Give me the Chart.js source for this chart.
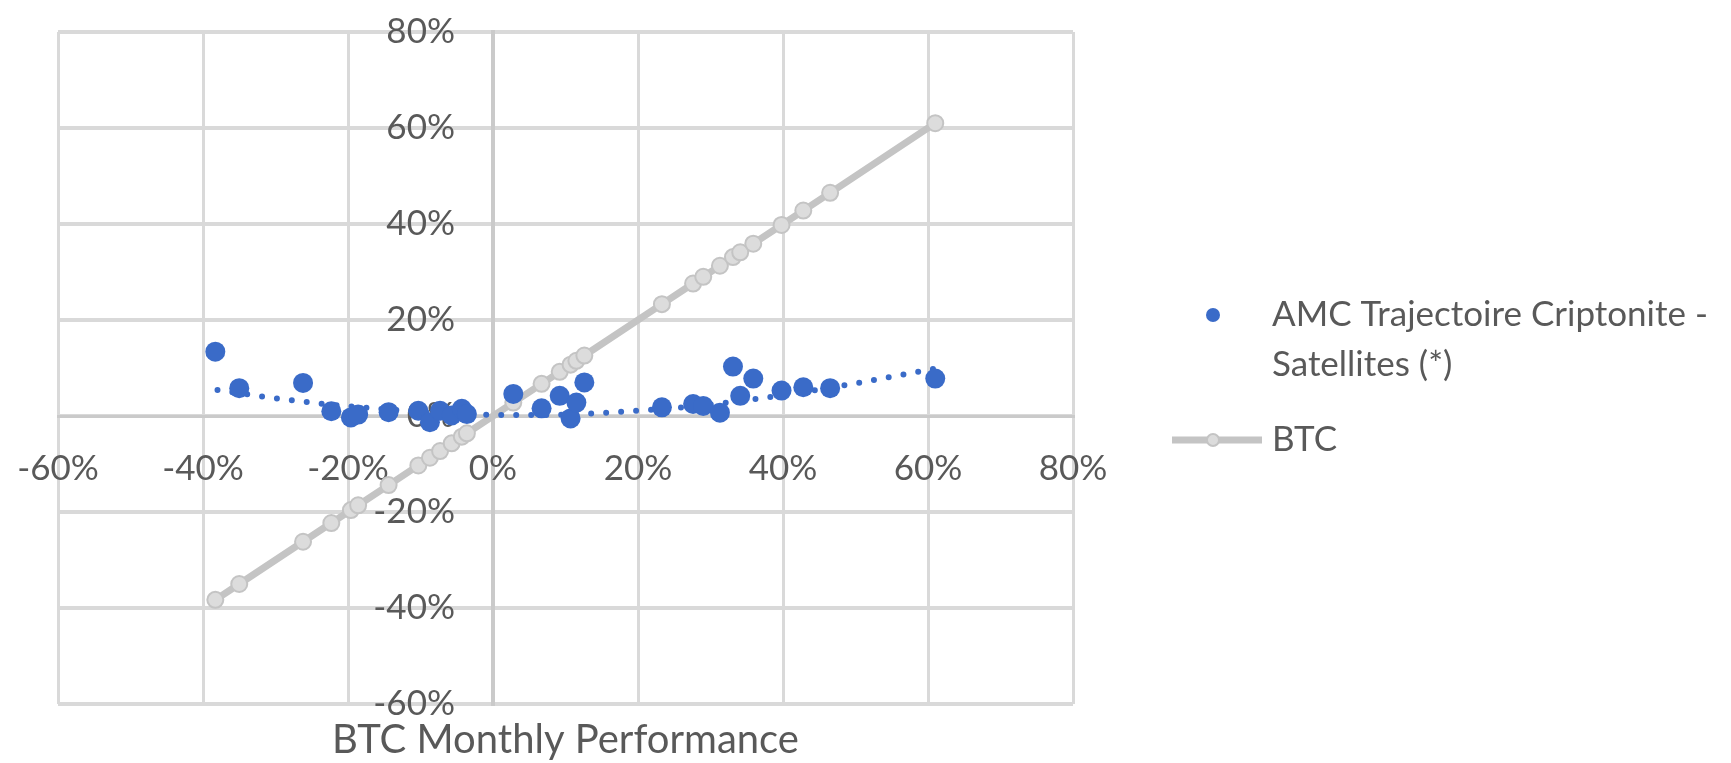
<!DOCTYPE html>
<html>
<head>
<meta charset="utf-8">
<title>AMC Trajectoire Criptonite - Satellites vs BTC</title>
<script src="https://cdn.jsdelivr.net/npm/chart.js@4.4.1/dist/chart.umd.min.js"></script>
<style>
  body { margin: 0; background: #fff; }
  #wrap { width: 1731px; height: 763px; }
</style>
</head>
<body>
<div id="wrap"><canvas id="scatterChart" width="1731" height="763"></canvas></div>
<script>
// BTC monthly performance (%) - x axis for both series
const btcMonthly = [-38.3, -35.0, -26.2, -22.3, -19.6, -18.6, -14.4, -10.3, -8.7, -7.3, -5.7, -4.3, -3.6,
                    2.8, 6.7, 9.2, 10.7, 11.5, 12.6, 23.3, 27.6, 29.0, 31.3, 33.1, 34.1, 35.9, 39.8, 42.8, 46.5, 61.0];
// AMC monthly performance (%) for the same months
const amcMonthly = [13.4, 5.8, 6.9, 1.0, -0.3, 0.3, 0.8, 1.1, -1.3, 1.1, 0.1, 1.5, 0.4,
                    4.6, 1.6, 4.2, -0.5, 2.8, 7.0, 1.8, 2.5, 2.1, 0.7, 10.3, 4.2, 7.8, 5.3, 6.0, 5.8, 7.8];
// dotted trend curve
const trendX = [-38, -30, -22, -14, -6, 2, 10, 18, 26, 34, 42, 50, 61];
const trendY = [5.4, 3.7, 2.3, 1.3, 0.5, 0.2, 0.3, 0.9, 1.8, 3.1, 4.8, 6.8, 9.9];
// axis ticks (%)
const axisMin = -60;
const axisMax = 80;
const axisStep = 20;

const amcLabel = ['AMC Trajectoire Criptonite -', 'Satellites (*)'];
const btcLabel = 'BTC';
const axisTitle = 'BTC Monthly Performance';

const blue = '#3A6BC8';
const grey = '#C4C4C4';
const greyFill = '#DCDCDC';
const gridGrey = '#D9D9D9';
const axisGrey = '#CACACA';
const textGrey = '#595959';
const fontFamily = 'Lato, "Open Sans", sans-serif';
const tickFont = '35px ' + fontFamily;

// tick labels sit next to the 0 lines (axes cross at 0), under the points
const axisLabels = {
    id: 'axisLabels',
    beforeDatasetsDraw(chart) {
        const ctx = chart.ctx;
        const xScale = chart.scales.x;
        const yScale = chart.scales.y;
        const x0 = xScale.getPixelForValue(0);
        const y0 = yScale.getPixelForValue(0);
        ctx.save();
        ctx.fillStyle = textGrey;
        ctx.font = tickFont;
        ctx.textBaseline = 'middle';
        ctx.textAlign = 'right';
        yScale.ticks.forEach(t => {
            ctx.fillText(t.value + '%', x0 - 38, yScale.getPixelForValue(t.value));
        });
        ctx.textAlign = 'center';
        xScale.ticks.forEach(t => {
            ctx.fillText(t.value + '%', xScale.getPixelForValue(t.value), y0 + 53);
        });
        ctx.restore();
    }
};

// Legend + axis title drawn by hand (legend text wraps on two lines)
const extras = {
    id: 'extras',
    afterDraw(chart) {
        const ctx = chart.ctx;
        const area = chart.chartArea;
        ctx.save();
        ctx.fillStyle = textGrey;
        ctx.textBaseline = 'middle';

        // axis title
        ctx.font = '40px ' + fontFamily;
        ctx.textAlign = 'center';
        ctx.fillText(axisTitle, (area.left + area.right) / 2, 740);

        // legend: AMC
        ctx.font = '35px ' + fontFamily;
        ctx.textAlign = 'left';
        ctx.beginPath();
        ctx.arc(1213, 315, 7, 0, Math.PI * 2);
        ctx.fillStyle = blue;
        ctx.fill();
        ctx.fillStyle = textGrey;
        ctx.fillText(amcLabel[0], 1272, 315);
        ctx.fillText(amcLabel[1], 1272, 365);

        // legend: BTC
        ctx.strokeStyle = grey;
        ctx.lineWidth = 7;
        ctx.beginPath();
        ctx.moveTo(1172, 440);
        ctx.lineTo(1262, 440);
        ctx.stroke();
        ctx.beginPath();
        ctx.arc(1213, 440, 6, 0, Math.PI * 2);
        ctx.fillStyle = greyFill;
        ctx.fill();
        ctx.lineWidth = 2;
        ctx.stroke();
        ctx.fillStyle = textGrey;
        ctx.fillText(btcLabel, 1272, 440);
        ctx.restore();
    }
};

const amcPoints = btcMonthly.map((x, i) => ({ x: x, y: amcMonthly[i] }));
const btcPoints = btcMonthly.map(x => ({ x: x, y: x }));
const trendPoints = trendX.map((x, i) => ({ x: x, y: trendY[i] }));

const ctx = document.getElementById('scatterChart').getContext('2d');
const chart = new Chart(ctx, {
    type: 'scatter',
    data: {
        datasets: [{
            label: amcLabel.join(' '),
            data: amcPoints,
            backgroundColor: blue,
            borderColor: blue,
            pointRadius: 10,
            pointBorderWidth: 0,
            order: 0
        }, {
            label: 'Trend',
            data: trendPoints,
            showLine: true,
            borderColor: blue,
            borderWidth: 6,
            borderDash: [0, 15],
            borderCapStyle: 'round',
            cubicInterpolationMode: 'monotone',
            pointRadius: 0,
            order: 1
        }, {
            label: btcLabel,
            data: btcPoints,
            showLine: true,
            borderColor: grey,
            borderWidth: 7,
            backgroundColor: greyFill,
            pointBorderColor: grey,
            pointBorderWidth: 2,
            pointRadius: 8,
            order: 2
        }]
    },
    options: {
        responsive: false,
        animation: false,
        devicePixelRatio: 1,
        layout: { padding: { left: 58, top: 32, right: 658, bottom: 59 } },
        plugins: {
            legend: { display: false },
            tooltip: { enabled: false }
        },
        scales: {
            x: {
                type: 'linear',
                min: axisMin,
                max: axisMax,
                position: { y: 0 },
                grid: { color: gridGrey, lineWidth: 3, drawTicks: false },
                border: { color: axisGrey, width: 3 },
                ticks: { stepSize: axisStep, display: false }
            },
            y: {
                type: 'linear',
                min: axisMin,
                max: axisMax,
                position: { x: 0 },
                grid: { color: gridGrey, lineWidth: 4, drawTicks: false },
                border: { color: axisGrey, width: 4 },
                ticks: { stepSize: axisStep, display: false }
            }
        }
    },
    plugins: [axisLabels, extras]
});
</script>
</body>
</html>
